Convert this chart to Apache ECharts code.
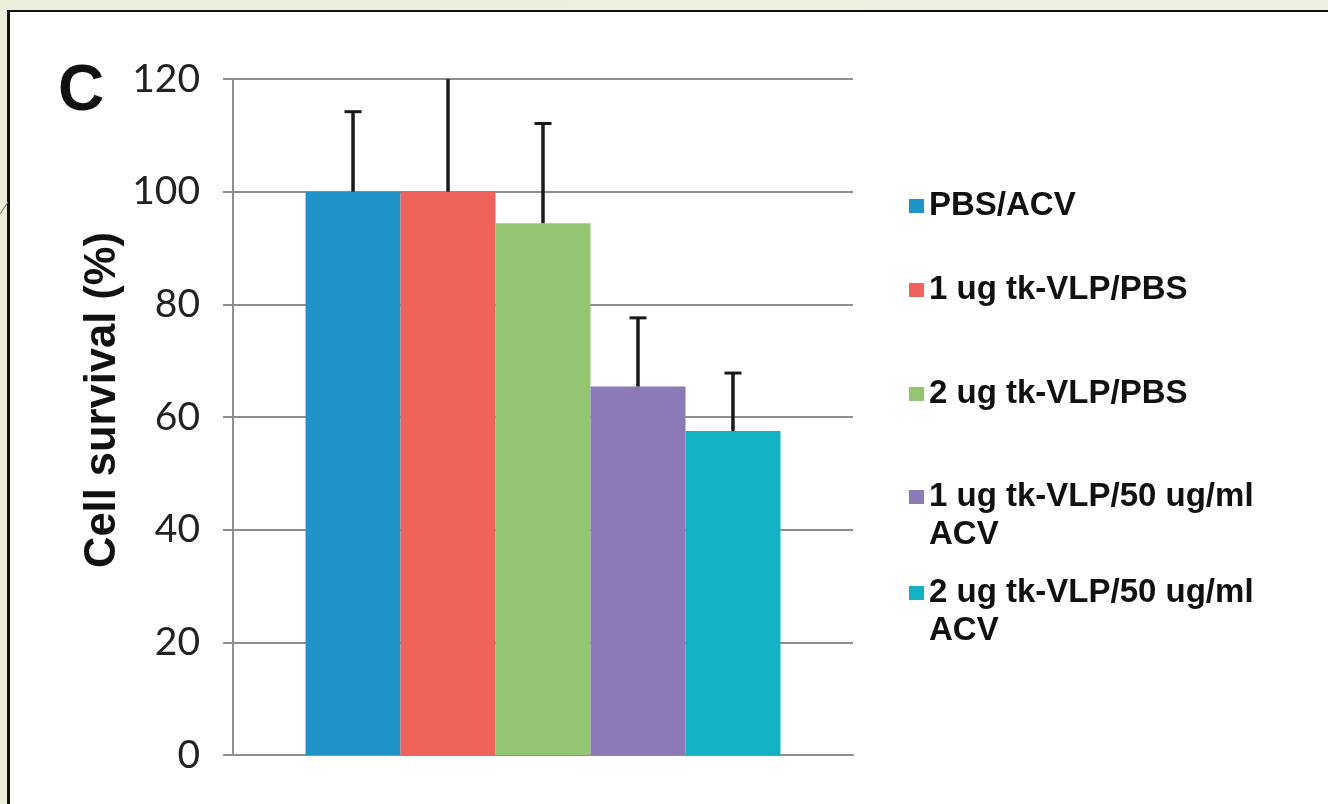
<!DOCTYPE html>
<html>
<head>
<meta charset="utf-8">
<script src="https://cdn.jsdelivr.net/npm/echarts@6/dist/echarts.min.js"></script>
<style>
  html, body { margin: 0; padding: 0; }
  body { width: 1328px; height: 804px; background: linear-gradient(90deg, #eceedc, #eef1e2); position: relative; overflow: hidden; }
  #frame { position: absolute; left: 7px; top: 10px; right: 0; bottom: 0; background: #fff; border-left: 3px solid #111; border-top: 2px solid #111; }
  #chart { position: absolute; left: 0; top: 0; width: 1328px; height: 804px; }
</style>
</head>
<body>
<div id="frame"></div>
<div id="chart"></div>
<script>
// 数据
const groups = ['PBS/ACV', '1 ug tk-VLP/PBS', '2 ug tk-VLP/PBS', '1 ug tk-VLP/50 ug/ml\nACV', '2 ug tk-VLP/50 ug/ml\nACV']
const survival = [100, 100, 94.4, 65.4, 57.5]
const errTop = [114.2, 126, 112.1, 77.6, 67.8]
const colors = ['#1f92c8', '#ef635c', '#93c572', '#8b7ab5', '#12b2c4']
const yTicks = [0, 20, 40, 60, 80, 100, 120]

const catGap = 0.234 // 柱组两侧留白
const legendTop = [187, 271, 375, 440, 536] // 每个图例的位置

const chart = echarts.init(document.getElementById('chart'))

const barSeries = groups.map((name, i) => ({
  name,
  type: 'bar',
  barGap: '0%',
  barCategoryGap: (catGap * 100) + '%',
  itemStyle: { color: colors[i] },
  data: [survival[i]],
  z: 2,
}))

// 误差线（只画上半部分）
const errSeries = {
  type: 'custom',
  clip: true,
  z: 5,
  data: survival.map((v, i) => [0, v, errTop[i], i]),
  renderItem(params, api) {
    const center = api.coord([0, 0])[0]
    const catW = api.size([1, 0])[0]
    const bw = catW * (1 - catGap) / groups.length
    const x = center + (api.value(3) - (groups.length - 1) / 2) * bw
    const yBase = api.coord([0, api.value(1)])[1]
    const yTop = api.coord([0, api.value(2)])[1]
    const style = { stroke: '#1a1a1a', lineWidth: 3.5 }
    return {
      type: 'group',
      children: [
        { type: 'line', shape: { x1: x, y1: yBase, x2: x, y2: yTop }, style },
        { type: 'line', shape: { x1: x - 8.5, y1: yTop, x2: x + 8.5, y2: yTop }, style: { stroke: '#1a1a1a', lineWidth: 3 } },
      ],
    }
  },
}

// 两行的图例前面加一个空行，让色块对齐第一行
const legends = groups.map((name, i) => ({
  data: [name],
  left: 909,
  top: legendTop[i],
  padding: 0,
  icon: 'rect',
  itemWidth: 15,
  itemHeight: 14,
  selectedMode: false,
  formatter: n => (n.includes('\n') ? ' \n' + n : n),
  textStyle: {
    fontFamily: 'Liberation Sans',
    fontWeight: 'bold',
    fontSize: 33,
    lineHeight: 38,
    color: '#111',
  },
}))

const option = {
  animation: false,
  grid: { left: 233, right: 475, top: 79, bottom: 49 },
  xAxis: {
    type: 'category',
    data: [''],
    axisLine: { show: true, lineStyle: { color: '#8e8e8e', width: 2 } },
    axisTick: { show: false },
    axisLabel: { show: false },
  },
  yAxis: {
    type: 'value',
    min: yTicks[0],
    max: yTicks[yTicks.length - 1],
    interval: yTicks[1] - yTicks[0],
    name: 'Cell survival (%)',
    nameLocation: 'middle',
    nameGap: 108,
    nameTextStyle: { fontFamily: 'Liberation Sans', fontWeight: 'bold', fontSize: 43.5, color: '#111', padding: [0, 0, 0, 34] },
    axisLine: { show: true, lineStyle: { color: '#8e8e8e', width: 2 } },
    axisTick: { show: true, length: 10, lineStyle: { color: '#8e8e8e', width: 2 } },
    splitLine: { show: true, lineStyle: { color: '#8e8e8e', width: 2 } },
    axisLabel: { fontFamily: 'Lato', fontSize: 39, color: '#222', margin: 33 },
  },
  legend: legends,
  graphic: [
    { type: 'text', left: 58, top: 60, style: { text: 'C', font: 'bold 64px "Liberation Sans"', fill: '#111' } },
    { type: 'line', shape: { x1: 0, y1: 214, x2: 8, y2: 202 }, style: { stroke: '#8a7b5e', lineWidth: 1.2 } },
  ],
  series: [...barSeries, errSeries],
}

chart.setOption(option)
</script>
</body>
</html>
